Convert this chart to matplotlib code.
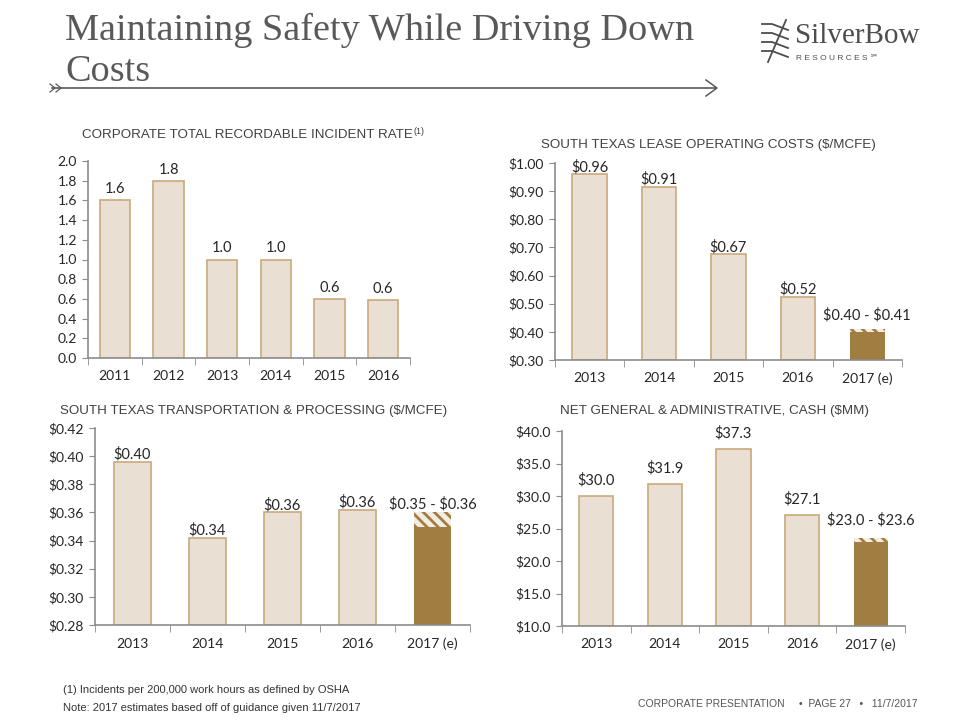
import matplotlib
matplotlib.use("Agg")
import matplotlib.pyplot as plt
from matplotlib.lines import Line2D

# ==== data ====
tri_years = ["2011", "2012", "2013", "2014", "2015", "2016"]
tri_values = [1.6, 1.8, 1.0, 1.0, 0.6, 0.59]
tri_labels = ["1.6", "1.8", "1.0", "1.0", "0.6", "0.6"]

loe_years = ["2013", "2014", "2015", "2016", "2017 (e)"]
loe_values = [0.96, 0.915, 0.675, 0.525]
loe_labels = ["$0.96", "$0.91", "$0.67", "$0.52"]
loe_guide_low, loe_guide_high = 0.40, 0.41
loe_guide_label = "$0.40 - $0.41"

tp_years = ["2013", "2014", "2015", "2016", "2017 (e)"]
tp_values = [0.396, 0.342, 0.360, 0.362]
tp_labels = ["$0.40", "$0.34", "$0.36", "$0.36"]
tp_guide_low, tp_guide_high = 0.35, 0.36
tp_guide_label = "$0.35 - $0.36"

ga_years = ["2013", "2014", "2015", "2016", "2017 (e)"]
ga_values = [30.0, 31.9, 37.3, 27.1]
ga_labels = ["$30.0", "$31.9", "$37.3", "$27.1"]
ga_guide_low, ga_guide_high = 23.0, 23.6
ga_guide_label = "$23.0 - $23.6"

# ==== style ====
LIGHT = "#E9DFD2"
EDGE = "#C8AA7E"
DARK = "#A07E42"
SPINE = "#8C8C8C"
TEXT = "#262626"
TITLE_GRAY = "#595959"
TICK_FONT = ["Lato", "DejaVu Sans"]
plt.rcParams["hatch.linewidth"] = 2.0


def esc(s):
    return s.replace("$", r"\$")


def style_axes(ax, n, ymin, ymax, yticks, fmt):
    ax.set_xlim(-0.5, n - 0.5)
    ax.set_ylim(ymin, ymax)
    ax.set_yticks(yticks)
    ax.set_yticklabels([esc(fmt(v)) for v in yticks], family=TICK_FONT, fontsize=10, color=TEXT)
    for s in ("top", "right"):
        ax.spines[s].set_visible(False)
    for s in ("left", "bottom"):
        ax.spines[s].set_color(SPINE)
        ax.spines[s].set_linewidth(1.2)
    ax.tick_params(axis="y", length=4, color=SPINE, pad=4)
    ax.set_xticks([i - 0.5 for i in range(n + 1)], minor=True)
    ax.tick_params(axis="x", which="minor", length=5, color=SPINE, direction="out")
    ax.tick_params(axis="x", which="major", length=0, pad=9)


def draw_bars(ax, years, values, labels, width, offset, guide=None, guide_offset=None):
    n = len(years)
    xs = list(range(len(values)))
    y0 = ax.get_ylim()[0]
    ax.bar(xs, [v - y0 for v in values], bottom=y0,
           width=width, color=LIGHT, edgecolor=EDGE, linewidth=1.2, zorder=2)
    for x, v, lab in zip(xs, values, labels):
        ax.annotate(esc(lab), (x, v), xytext=(0, offset), textcoords="offset points",
                    ha="center", va="bottom", fontsize=10.5, family=TICK_FONT, color=TEXT)
    if guide is not None:
        lo, hi, lab = guide
        gx = n - 1
        ax.bar(gx, lo - y0, bottom=y0, width=width, color=DARK, edgecolor=DARK, linewidth=0, zorder=2)
        ax.bar(gx, hi - lo, bottom=lo, width=width, color="#F3ECE2", edgecolor=DARK,
               hatch="\\\\\\", linewidth=0, zorder=2)
        go = offset + 1 if guide_offset is None else guide_offset
        ax.annotate(esc(lab), (gx, hi), xytext=(0, go), textcoords="offset points",
                    ha="center", va="bottom", fontsize=10.5, family=TICK_FONT, color=TEXT)
    ax.set_xticks(range(n))
    ax.set_xticklabels(years, family=TICK_FONT, fontsize=10, color=TEXT)


fig = plt.figure(figsize=(9.6, 7.2), dpi=100)

# ---- chart 1: TRIR ----
ax1 = fig.add_axes([88 / 960, 1 - 358 / 720, 322 / 960, 197 / 720])
style_axes(ax1, 6, 0, 2.0, [0.0, 0.2, 0.4, 0.6, 0.8, 1.0, 1.2, 1.4, 1.6, 1.8, 2.0],
           lambda v: f"{v:.1f}")
draw_bars(ax1, tri_years, tri_values, tri_labels, 0.57, 3)

# ---- chart 2: LOE ----
ax2 = fig.add_axes([555 / 960, 1 - 360 / 720, 347 / 960, 197 / 720])
style_axes(ax2, 5, 0.30, 1.00, [0.30, 0.40, 0.50, 0.60, 0.70, 0.80, 0.90, 1.00],
           lambda v: f"${v:.2f}")
draw_bars(ax2, loe_years, loe_values, loe_labels, 0.5, 0,
          guide=(loe_guide_low, loe_guide_high, loe_guide_label), guide_offset=5)

# ---- chart 3: T&P ----
ax3 = fig.add_axes([95 / 960, 1 - 625 / 720, 375 / 960, 197 / 720])
style_axes(ax3, 5, 0.28, 0.42, [0.28, 0.30, 0.32, 0.34, 0.36, 0.38, 0.40, 0.42],
           lambda v: f"${v:.2f}")
draw_bars(ax3, tp_years, tp_values, tp_labels, 0.5, 0,
          guide=(tp_guide_low, tp_guide_high, tp_guide_label))

# ---- chart 4: G&A ----
ax4 = fig.add_axes([562 / 960, 1 - 626 / 720, 343 / 960, 195 / 720])
style_axes(ax4, 5, 10, 40, [10, 15, 20, 25, 30, 35, 40], lambda v: f"${v:.1f}")
draw_bars(ax4, ga_years, ga_values, ga_labels, 0.5, 6,
          guide=(ga_guide_low, ga_guide_high, ga_guide_label))

# ---- chart titles ----
title_kw = dict(family=["Liberation Sans", "DejaVu Sans"], fontsize=9.6, color="#404040",
                va="center")
t1 = fig.text(82 / 960, 1 - 135 / 720, "CORPORATE TOTAL RECORDABLE INCIDENT RATE", **title_kw)
fig.text(541 / 960, 1 - 145 / 720, "SOUTH TEXAS LEASE OPERATING COSTS ($/MCFE)", **title_kw)
fig.text(60 / 960, 1 - 411 / 720, "SOUTH TEXAS TRANSPORTATION & PROCESSING ($/MCFE)", **title_kw)
fig.text(560 / 960, 1 - 411 / 720, "NET GENERAL & ADMINISTRATIVE, CASH ($MM)", **title_kw)
fig.canvas.draw()
plt.annotate("(1)", xy=(1, 0.45), xycoords=t1, xytext=(0.5, 0), textcoords="offset points",
             va="bottom", ha="left", fontsize=6.5, color="#404040",
             family=["Liberation Sans", "DejaVu Sans"])

# ---- slide title ----
fig.text(65 / 960, 1 - 30 / 720, "Maintaining Safety While Driving Down", fontsize=27.5,
         family=["Liberation Serif", "DejaVu Serif"], color=TITLE_GRAY, va="center")
fig.text(65 / 960, 1 - 72 / 720, "Costs", fontsize=27.5,
         family=["Liberation Serif", "DejaVu Serif"], color=TITLE_GRAY, va="center")

# arrow under the title
fig.add_artist(Line2D([52 / 960, 716 / 960], [1 - 88 / 720, 1 - 88 / 720], color="#595959", lw=1.2))
for x0 in (50, 56):
    fig.add_artist(Line2D([x0 / 960, (x0 + 5) / 960, x0 / 960],
                          [1 - 84 / 720, 1 - 88 / 720, 1 - 92 / 720], color="#595959", lw=0.9))
fig.add_artist(Line2D([706 / 960, 717 / 960, 706 / 960],
                      [1 - 80 / 720, 1 - 88 / 720, 1 - 96 / 720], color="#595959", lw=1.1))

# logo
fig.text(795 / 960, 1 - 36 / 720, "SilverBow", fontsize=21,
         family=["Liberation Serif", "DejaVu Serif"], color="#4D4D4D", va="center")
fig.text(796 / 960, 1 - 58 / 720, "R E S O U R C E S ℠", fontsize=6,
         family=["Liberation Sans", "DejaVu Sans"], color="#4D4D4D", va="center")
for k in range(4):
    yy = 1 - (24 + k * 9) / 720
    fig.add_artist(Line2D([762 / 960, 772 / 960, 788 / 960], [yy, yy, yy - 6 / 720],
                          color="#4D4D4D", lw=1.3))
fig.add_artist(Line2D([768 / 960, 786 / 960], [1 - 62 / 720, 1 - 20 / 720], color="#4D4D4D", lw=1.3))

# footer
foot_kw = dict(family=["Liberation Sans", "DejaVu Sans"], fontsize=8, color="#333333", va="center")
fig.text(63 / 960, 1 - 690 / 720, "(1) Incidents per 200,000 work hours as defined by OSHA", **foot_kw)
fig.text(63 / 960, 1 - 708 / 720, "Note: 2017 estimates based off of guidance given 11/7/2017", **foot_kw)
fig.text(917 / 960, 1 - 704 / 720, "CORPORATE PRESENTATION     •  PAGE 27   •   11/7/2017",
         family=["Liberation Sans", "DejaVu Sans"], fontsize=7.5, color="#555555",
         va="center", ha="right")

fig.savefig("out.png", dpi=100)
